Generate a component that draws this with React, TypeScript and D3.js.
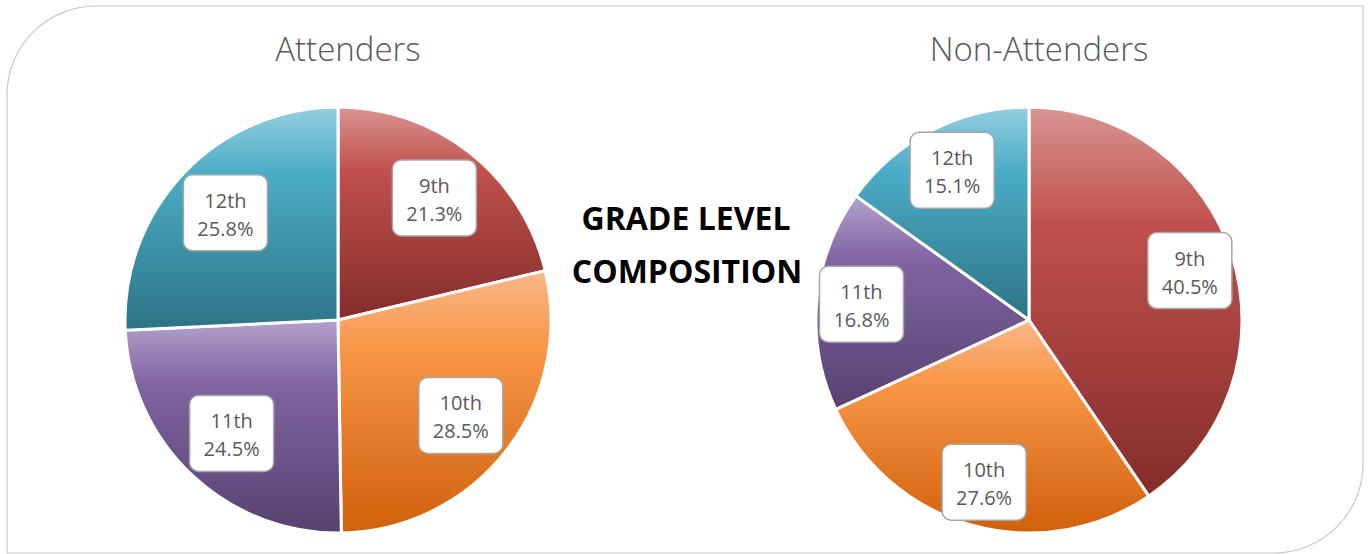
import React from "react";
import * as d3 from "d3";

// grade level composition data
const grades = ["9th", "10th", "11th", "12th"];
const attenders = [21.3, 28.5, 24.5, 25.8];
const nonAttenders = [40.5, 27.6, 16.8, 15.1];
const pieTitles = ["Attenders", "Non-Attenders"];
const centerTitle = ["GRADE LEVEL", "COMPOSITION"];

// light / base / dark for each grade
const gradeColors = [
  ["#d99592", "#c0504d", "#832d2c"],
  ["#fab88a", "#f79646", "#d0600c"],
  ["#b3a2cc", "#8064a2", "#574170"],
  ["#95cfe0", "#4bacc6", "#2d7385"],
];

const W = 1369;
const H = 554;
const R = 213;
const centers = [
  [338, 320],
  [1029, 320],
];

const font = "'Open Sans', 'DejaVu Sans', sans-serif";

const Pie = ({ values, cx, cy, id, title, labelR }: { values: number[]; cx: number; cy: number; id: string; title: string; labelR: number }) => {
  const pie = d3.pie<number>().sort(null).value((d) => d);
  const arcs = pie(values);
  const arc = d3.arc<d3.PieArcDatum<number>>().innerRadius(0).outerRadius(R);
  const labelArc = d3.arc<d3.PieArcDatum<number>>().innerRadius(R * labelR).outerRadius(R * labelR);

  return (
    <g>
      <defs>
        {gradeColors.map((c, i) => (
          <linearGradient key={i} id={`${id}-g${i}`} x1="0" y1="0" x2="0" y2="1">
            <stop offset="0" stopColor={c[0]} />
            <stop offset="0.3" stopColor={c[1]} />
            <stop offset="1" stopColor={c[2]} />
          </linearGradient>
        ))}
      </defs>
      <text x={cx + 10} y={61} textAnchor="middle" fontFamily={font} fontWeight={300} fontSize={33} fill="#595959">
        {title}
      </text>
      <g transform={`translate(${cx},${cy})`}>
        {arcs.map((a, i) => (
          <path key={i} d={arc(a) || ""} fill={`url(#${id}-g${i})`} stroke="#fff" strokeWidth={3} strokeLinejoin="round" />
        ))}
        {arcs.map((a, i) => {
          const [lx, ly] = labelArc.centroid(a);
          return (
            <g key={"l" + i} transform={`translate(${lx},${ly})`}>
              <rect x={-42} y={-38} width={84} height={76} rx={9} fill="#fff" stroke="#a6a6a6" strokeWidth={1.5} />
              <text textAnchor="middle" fontFamily={font} fontSize={20} fill="#595959">
                <tspan x={0} y={-5}>{grades[i]}</tspan>
                <tspan x={0} y={23}>{values[i].toFixed(1)}%</tspan>
              </text>
            </g>
          );
        })}
      </g>
    </g>
  );
};

export default function App() {
  return (
    <svg width={W} height={H} style={{ position: "absolute", left: 0, top: 0, background: "#fff" }}>
      <path
        d={`M7,96 A89,89 0 0 1 96,6 L1363,6 L1363,464 A89,89 0 0 1 1274,553 L7,553 Z`}
        fill="#fff"
        stroke="#c8c8c8"
        strokeWidth={1.2}
      />
      <Pie values={attenders} cx={centers[0][0]} cy={centers[0][1]} id="att" title={pieTitles[0]} labelR={0.73} />
      <Pie values={nonAttenders} cx={centers[1][0]} cy={centers[1][1]} id="non" title={pieTitles[1]} labelR={0.79} />
      <text textAnchor="middle" fontFamily={font} fontWeight={700} fontSize={32} fill="#000">
        <tspan x={686} y={230}>{centerTitle[0]}</tspan>
        <tspan x={687} y={283}>{centerTitle[1]}</tspan>
      </text>
    </svg>
  );
}
